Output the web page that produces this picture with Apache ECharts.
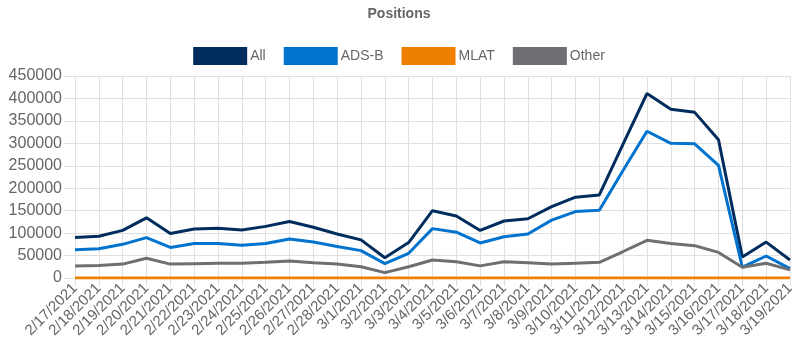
<!DOCTYPE html>
<html><head><meta charset="utf-8">
<script src="https://cdn.jsdelivr.net/npm/echarts@6/dist/echarts.min.js"></script>
<style>html,body{margin:0;padding:0;background:#fff}#c{width:798px;height:346px}</style>
</head><body><div id="c"></div>
<script>
var categories = ["2/17/2021","2/18/2021","2/19/2021","2/20/2021","2/21/2021","2/22/2021","2/23/2021","2/24/2021","2/25/2021","2/26/2021","2/27/2021","2/28/2021","3/1/2021","3/2/2021","3/3/2021","3/4/2021","3/5/2021","3/6/2021","3/7/2021","3/8/2021","3/9/2021","3/10/2021","3/11/2021","3/12/2021","3/13/2021","3/14/2021","3/15/2021","3/16/2021","3/17/2021","3/18/2021","3/19/2021"];
var allValues = [90000,93000,106000,134000,99000,109000,111000,107000,115000,126000,113000,98000,85000,45000,79000,150000,138000,106000,127000,132000,159000,180000,185000,299000,411000,376000,369000,308000,47000,80000,40000];
var adsbValues = [63000,65000,75000,90000,68000,77000,77000,73000,77000,87000,80000,70000,61000,32000,55000,110000,102000,78000,92000,98000,129000,148000,151000,240000,327000,300000,299000,251000,24000,49000,21000];
var mlatValues = [0,0,0,0,0,0,0,0,0,0,0,0,0,0,0,0,0,0,0,0,0,0,0,0,0,0,0,0,0,0,0];
var otherValues = [27000,28000,31000,44000,31000,32000,33000,33000,35000,38000,34000,31000,25000,12000,25000,40000,36000,27000,36000,34000,31000,33000,35000,59000,84000,77000,72000,57000,24000,33000,18000];
var yTicks = {min:0, max:450000, interval:50000};

var chart = echarts.init(document.getElementById('c'));
function ser(name, data, color){
  return {name:name, type:'line', data:data, showSymbol:false, symbol:'none',
    lineStyle:{width:3, color:color}, itemStyle:{color:color}, z: 2};
}
chart.setOption({
  animation:false,
  textStyle:{fontFamily:'Liberation Sans, Arial, sans-serif'},
  title:{text:'Positions', left:'center', top:2,
    textStyle:{fontSize:14, fontWeight:'bold', color:'#666', fontFamily:'Liberation Sans, Arial, sans-serif'}},
  legend:{top:42, left:'center', icon:'rect', itemWidth:54, itemHeight:18, itemGap:18,
    textStyle:{fontSize:14, color:'#666', padding:[0,0,0,-2]},
    data:['All','ADS-B','MLAT','Other']},
  grid:{left:75, right:8, top:76, bottom:68, containLabel:false},
  xAxis:{type:'category', data:categories, boundaryGap:false,
    axisLine:{show:false},
    axisTick:{show:true, length:8, alignWithLabel:true, lineStyle:{color:'#e0e0e0'}},
    splitLine:{show:true, lineStyle:{color:'#e0e0e0'}},
    axisLabel:{rotate:45, interval:0, fontSize:15, color:'#666', margin:8}},
  yAxis:{type:'value', min:yTicks.min, max:yTicks.max, interval:yTicks.interval,
    axisLine:{show:false},
    axisTick:{show:true, length:11, lineStyle:{color:'#e0e0e0'}},
    splitLine:{show:true, lineStyle:{color:'#e0e0e0'}},
    axisLabel:{fontSize:16, color:'#666', margin:13, formatter:function(v){return String(v);}}},
  series:[
    ser('All', allValues, '#002c5e'),
    ser('ADS-B', adsbValues, '#0073cf'),
    ser('MLAT', mlatValues, '#ef7f00'),
    ser('Other', otherValues, '#6e6f73')
  ]
});
</script></body></html>
